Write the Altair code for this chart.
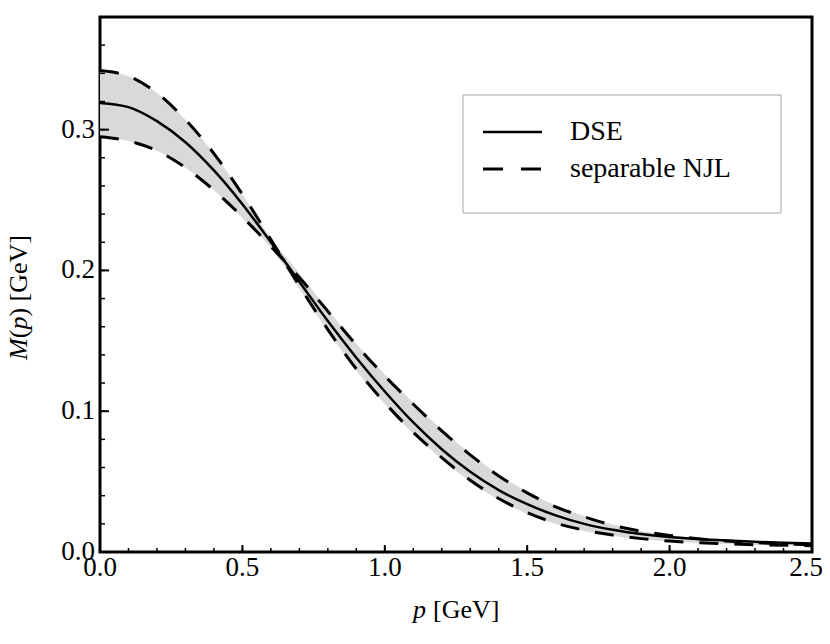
import altair as alt
import pandas as pd

# ---- data ----
p_vals = [0.0, 0.1, 0.2, 0.3, 0.4, 0.5, 0.6, 0.7, 0.8, 0.9, 1.0, 1.1, 1.2,
          1.3, 1.4, 1.5, 1.6, 1.7, 1.8, 1.9, 2.0, 2.1, 2.2, 2.3, 2.4, 2.5]
dse = [0.319, 0.316, 0.306, 0.291, 0.271, 0.247, 0.220, 0.192, 0.164, 0.138,
       0.114, 0.092, 0.073, 0.057, 0.044, 0.034, 0.026, 0.020, 0.0158, 0.0128,
       0.0107, 0.0092, 0.0081, 0.0072, 0.0065, 0.0060]
njl_a = [0.342, 0.338, 0.326, 0.307, 0.283, 0.254, 0.222, 0.189, 0.158, 0.130,
         0.106, 0.085, 0.067, 0.051, 0.038, 0.028, 0.0205, 0.0155, 0.012, 0.0095,
         0.0078, 0.0066, 0.0058, 0.0052, 0.0048, 0.0045]
njl_b = [0.295, 0.292, 0.285, 0.273, 0.257, 0.238, 0.217, 0.195, 0.171, 0.147,
         0.125, 0.105, 0.086, 0.069, 0.054, 0.042, 0.032, 0.025, 0.019, 0.0148,
         0.0118, 0.0094, 0.0078, 0.0067, 0.0058, 0.0052]
band_hi = [0.342, 0.338, 0.326, 0.307, 0.283, 0.254, 0.223, 0.198, 0.172, 0.148,
           0.126, 0.106, 0.087, 0.070, 0.055, 0.043, 0.033, 0.0255, 0.0195, 0.015,
           0.012, 0.0096, 0.0080, 0.0069, 0.0060, 0.0054]
band_lo = [0.295, 0.292, 0.285, 0.273, 0.257, 0.237, 0.216, 0.187, 0.157, 0.129,
           0.105, 0.084, 0.066, 0.050, 0.037, 0.027, 0.020, 0.015, 0.0115, 0.009,
           0.0074, 0.0064, 0.0056, 0.0051, 0.0047, 0.0044]

x_major = [0.0, 0.5, 1.0, 1.5, 2.0, 2.5]
x_tick_labels = ["0.0", "0.5", "1.0", "1.5", "2.0", "2.5"]
x_minor = [round(i * 0.1, 1) for i in range(26)]
y_major = [0.0, 0.1, 0.2, 0.3]
y_tick_labels = ["0.0", "0.1", "0.2", "0.3"]
y_minor = [round(i * 0.02, 2) for i in range(20)]
legend_labels = ["DSE", "separable NJL"]

W, H = 712, 535
FONT = "Liberation Serif"

band_df = pd.DataFrame({"p": p_vals, "lo": band_lo, "hi": band_hi})
dse_df = pd.DataFrame({"p": p_vals, "M": dse})
njl_df = pd.concat([
    pd.DataFrame({"p": p_vals, "M": njl_a, "curve": "a"}),
    pd.DataFrame({"p": p_vals, "M": njl_b, "curve": "b"}),
])
one = pd.DataFrame({"k": [0]})

xs = alt.Scale(domain=[0, 2.5], nice=False, zero=False)
ys = alt.Scale(domain=[0, 0.380], nice=False, zero=False)

band = alt.Chart(band_df).mark_area(color="#d9d9db", interpolate="monotone").encode(
    x=alt.X("p:Q", scale=xs, axis=None),
    y=alt.Y("lo:Q", scale=ys, axis=None),
    y2="hi:Q",
)
solid = alt.Chart(dse_df).mark_line(color="black", strokeWidth=2.5,
                                    interpolate="monotone").encode(
    x=alt.X("p:Q", scale=xs, axis=None),
    y=alt.Y("M:Q", scale=ys, axis=None),
)
dashed = alt.Chart(njl_df).mark_line(color="black", strokeWidth=3,
                                     strokeDash=[19, 16],
                                     interpolate="monotone").encode(
    x=alt.X("p:Q", scale=xs, axis=None),
    y=alt.Y("M:Q", scale=ys, axis=None),
    detail="curve:N",
)


# inward-pointing frame ticks, placed through the shared scales
def xticks(vals, length, width):
    return alt.Chart(pd.DataFrame({"v": vals})).mark_tick(
        color="black", orient="vertical", size=length, thickness=width,
        opacity=1).encode(
        x=alt.X("v:Q", scale=xs, axis=None), y=alt.value(H - length / 2))


def yticks(vals, length, width):
    return alt.Chart(pd.DataFrame({"v": vals})).mark_tick(
        color="black", orient="horizontal", size=length, thickness=width,
        opacity=1).encode(
        y=alt.Y("v:Q", scale=ys, axis=None), x=alt.value(length / 2))


tx_min = xticks(x_minor, 4, 1.5)
tx_maj = xticks(x_major, 7, 2)
ty_min = yticks(y_minor, 5, 1.5)
ty_maj = yticks(y_major, 9, 2)

# tick labels, placed through the same scales
xlab_main = alt.Chart(pd.DataFrame({"v": x_major[:-1], "lab": x_tick_labels[:-1]})).mark_text(
    font=FONT, fontSize=27, align="center", baseline="top", color="black").encode(
    x=alt.X("v:Q", scale=xs, axis=None), y=alt.value(H + 3), text="lab:N")
xlab_last = alt.Chart(pd.DataFrame({"v": x_major[-1:], "lab": x_tick_labels[-1:]})).mark_text(
    font=FONT, fontSize=27, align="center", baseline="top", color="black", dx=-6).encode(
    x=alt.X("v:Q", scale=xs, axis=None), y=alt.value(H + 3), text="lab:N")
ylab = alt.Chart(pd.DataFrame({"v": y_major, "lab": y_tick_labels})).mark_text(
    font=FONT, fontSize=27, align="right", baseline="middle", color="black").encode(
    y=alt.Y("v:Q", scale=ys, axis=None), x=alt.value(-5), text="lab:N")

# legend (box, samples, labels)
leg_box = alt.Chart(one).mark_rect(fill="white", stroke="#a6a6a6", strokeWidth=1).encode(
    x=alt.value(363), x2=alt.value(681), y=alt.value(78), y2=alt.value(196))
leg_solid = alt.Chart(one).mark_rule(color="black", strokeWidth=2.5).encode(
    x=alt.value(383), x2=alt.value(442), y=alt.value(115))
leg_dash = alt.Chart(one).mark_rule(color="black", strokeWidth=3, strokeDash=[20, 18]).encode(
    x=alt.value(383), x2=alt.value(442), y=alt.value(152))
leg_t1 = alt.Chart(one).mark_text(font=FONT, fontSize=28, align="left",
                                  baseline="middle", color="black").encode(
    x=alt.value(470), y=alt.value(115), text=alt.value(legend_labels[0]))
leg_t2 = alt.Chart(one).mark_text(font=FONT, fontSize=28, align="left",
                                  baseline="middle", color="black").encode(
    x=alt.value(470), y=alt.value(152), text=alt.value(legend_labels[1]))


# axis titles with italic parts
def txt(s, x, y, italic=False, angle=0):
    kw = dict(font=FONT, fontSize=26, align="left", baseline="alphabetic",
              color="black", angle=angle)
    if italic:
        kw["fontStyle"] = "italic"
    return alt.Chart(one).mark_text(**kw).encode(
        x=alt.value(x), y=alt.value(y), text=alt.value(s))


xt1 = txt("p", 313, 601, italic=True)
xt2 = txt("[GeV]", 333, 601)
yt1 = txt("M", -73, 343, italic=True, angle=270)
yt2 = txt("(", -73, 321.3, angle=270)
yt3 = txt("p", -73, 312.6, italic=True, angle=270)
yt4 = txt(") [GeV]", -73, 299.6, angle=270)

chart = alt.layer(
    band, solid, dashed,
    tx_min, tx_maj, ty_min, ty_maj,
    xlab_main, xlab_last, ylab,
    leg_box, leg_solid, leg_dash, leg_t1, leg_t2,
    xt1, xt2, yt1, yt2, yt3, yt4,
).properties(
    width=W, height=H,
    autosize=alt.AutoSizeParams(type="none"),
    padding={"left": 92, "top": 9, "right": 10, "bottom": 84},
    background="white",
).configure_view(stroke="black", strokeWidth=3)

chart.save("out.html", embed_options={"renderer": "svg", "actions": False})
